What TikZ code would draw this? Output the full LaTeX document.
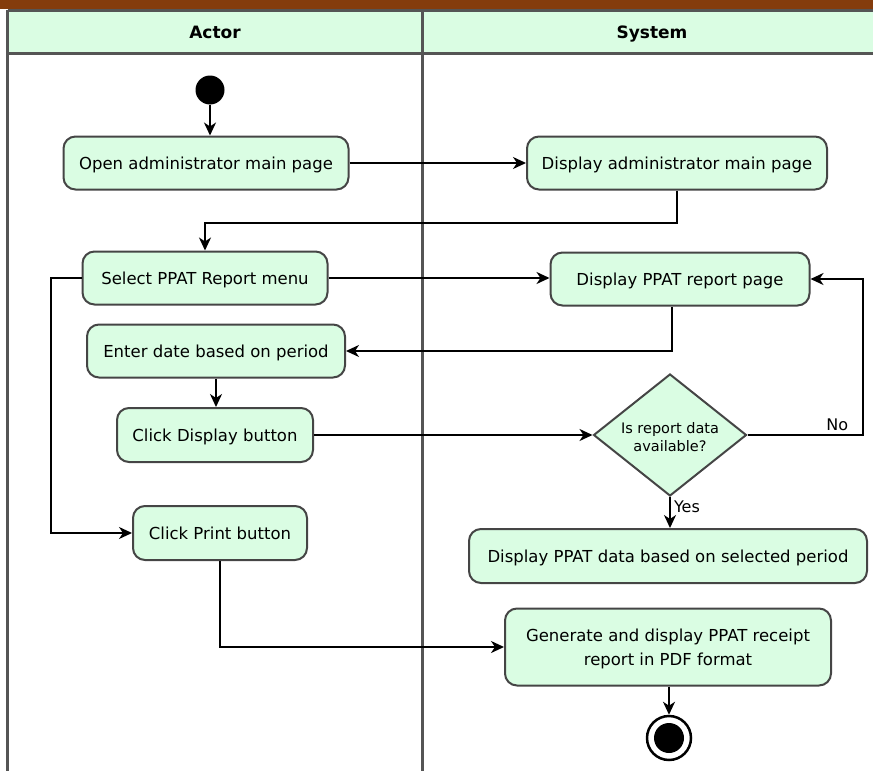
\documentclass[tikz,border=0pt]{standalone}
\usepackage{fontspec}
\setmainfont{DejaVu Sans}
\usetikzlibrary{arrows.meta,shapes.geometric}
\definecolor{brownbar}{HTML}{843C0C}
\definecolor{boxfill}{HTML}{DAFDE3}
\definecolor{edgegray}{HTML}{454545}
\definecolor{lanegray}{HTML}{555555}
\begin{document}
\begin{tikzpicture}[x=1pt,y=-1pt,
  act/.style={draw=edgegray, line width=2pt, fill=boxfill, rounded corners=12pt, inner sep=0pt, align=center, font=\fontsize{16.5}{24}\selectfont},
  oneline/.style={text height=16pt, text depth=4pt},
  flow/.style={line width=2pt, -{Stealth[length=13pt,width=12pt,inset=4pt]}},
  lane/.style={draw=lanegray, line width=3pt},
  hdr/.style={font=\bfseries\fontsize{17}{20}\selectfont, anchor=base},
  lbl/.style={font=\fontsize{16}{18}\selectfont, inner sep=1pt}]
\useasboundingbox (0,0) rectangle (873,771);
\clip (0,0) rectangle (873,771);
% top bar
\fill[brownbar] (0,0) rectangle (873,9);
% header
\fill[boxfill] (7.5,10) rectangle (880,53);
\draw[lane] (7.5,10) -- (880,10);
\draw[lane] (7.5,53) -- (880,53);
\draw[lane] (7.5,10) -- (7.5,771);
\draw[lane] (422,10) -- (422,771);
\node[hdr] (hactor) at (215,38) {Actor};
\node[hdr] (hsystem) at (652,38) {System};
% nodes
\node[circle, fill=black, minimum size=29pt, inner sep=0pt] (start) at (210,90) {};
\node[act, oneline, minimum width=285pt, minimum height=53pt] (open) at (206,163) {Open administrator main page};
\node[act, oneline, minimum width=300pt, minimum height=53pt] (dadmin) at (677,163) {Display administrator main page};
\node[act, oneline, minimum width=245pt, minimum height=53pt] (select) at (205,278) {Select PPAT Report menu};
\node[act, oneline, minimum width=259pt, minimum height=53pt] (dreport) at (680,279) {Display PPAT report page};
\node[act, oneline, minimum width=258pt, minimum height=53pt] (enter) at (216,351) {Enter date based on period};
\node[act, oneline, minimum width=196pt, minimum height=54pt] (click) at (215,435) {Click Display button};
\node[diamond, draw=edgegray, line width=2pt, fill=boxfill, minimum width=153pt, minimum height=122pt, inner sep=0pt] (dec) at (670,435) {};
\node[align=center, font=\fontsize{14.5}{18}\selectfont] (dectext) at (670,437) {Is report data\\available?};
\node[act, oneline, minimum width=174pt, minimum height=54pt] (print) at (220,533) {Click Print button};
\node[act, oneline, minimum width=398pt, minimum height=54pt] (ddata) at (668,556) {Display PPAT data based on selected period};
\node[act, minimum width=326pt, minimum height=77pt] (gen) at (668,647) {};
\node[align=center, font=\fontsize{16.5}{24}\selectfont] (gentext) at (668,649) {Generate and display PPAT receipt\\report in PDF format};
\node[circle, draw=black, line width=2.5pt, fill=white, minimum size=44pt, inner sep=0pt] (final) at (669,738) {};
\fill (final.center) circle (15pt);
% connectors
\draw[flow] (start) -- (start |- open.north);
\draw[flow] (open) -- (dadmin);
\draw[flow] (dadmin.south) -- ++(0,32) -| (select.north);
\draw[flow] (select.east) -- (select.east -| dreport.west);
\draw[flow] ([xshift=-8pt]dreport.south) |- (enter.east);
\draw[flow] (enter.south) -- (enter.south |- click.north);
\draw[flow] (click.east) -- (dec.west);
\draw[flow] (dec.east) -- ++(115,0) node[lbl, pos=0.78, above=2pt] (nolbl) {No} |- (dreport.east);
\draw[flow] (dec.south) -- (dec.south |- ddata.north) node[lbl, pos=0.3, right=2pt] (yeslbl) {Yes};
\draw[flow] (select.west) -- ++(-31,0) |- (print.west);
\draw[flow] (print.south) |- (gen.west);
\draw[flow] (final |- gen.south) -- (final);
\end{tikzpicture}
\end{document}
